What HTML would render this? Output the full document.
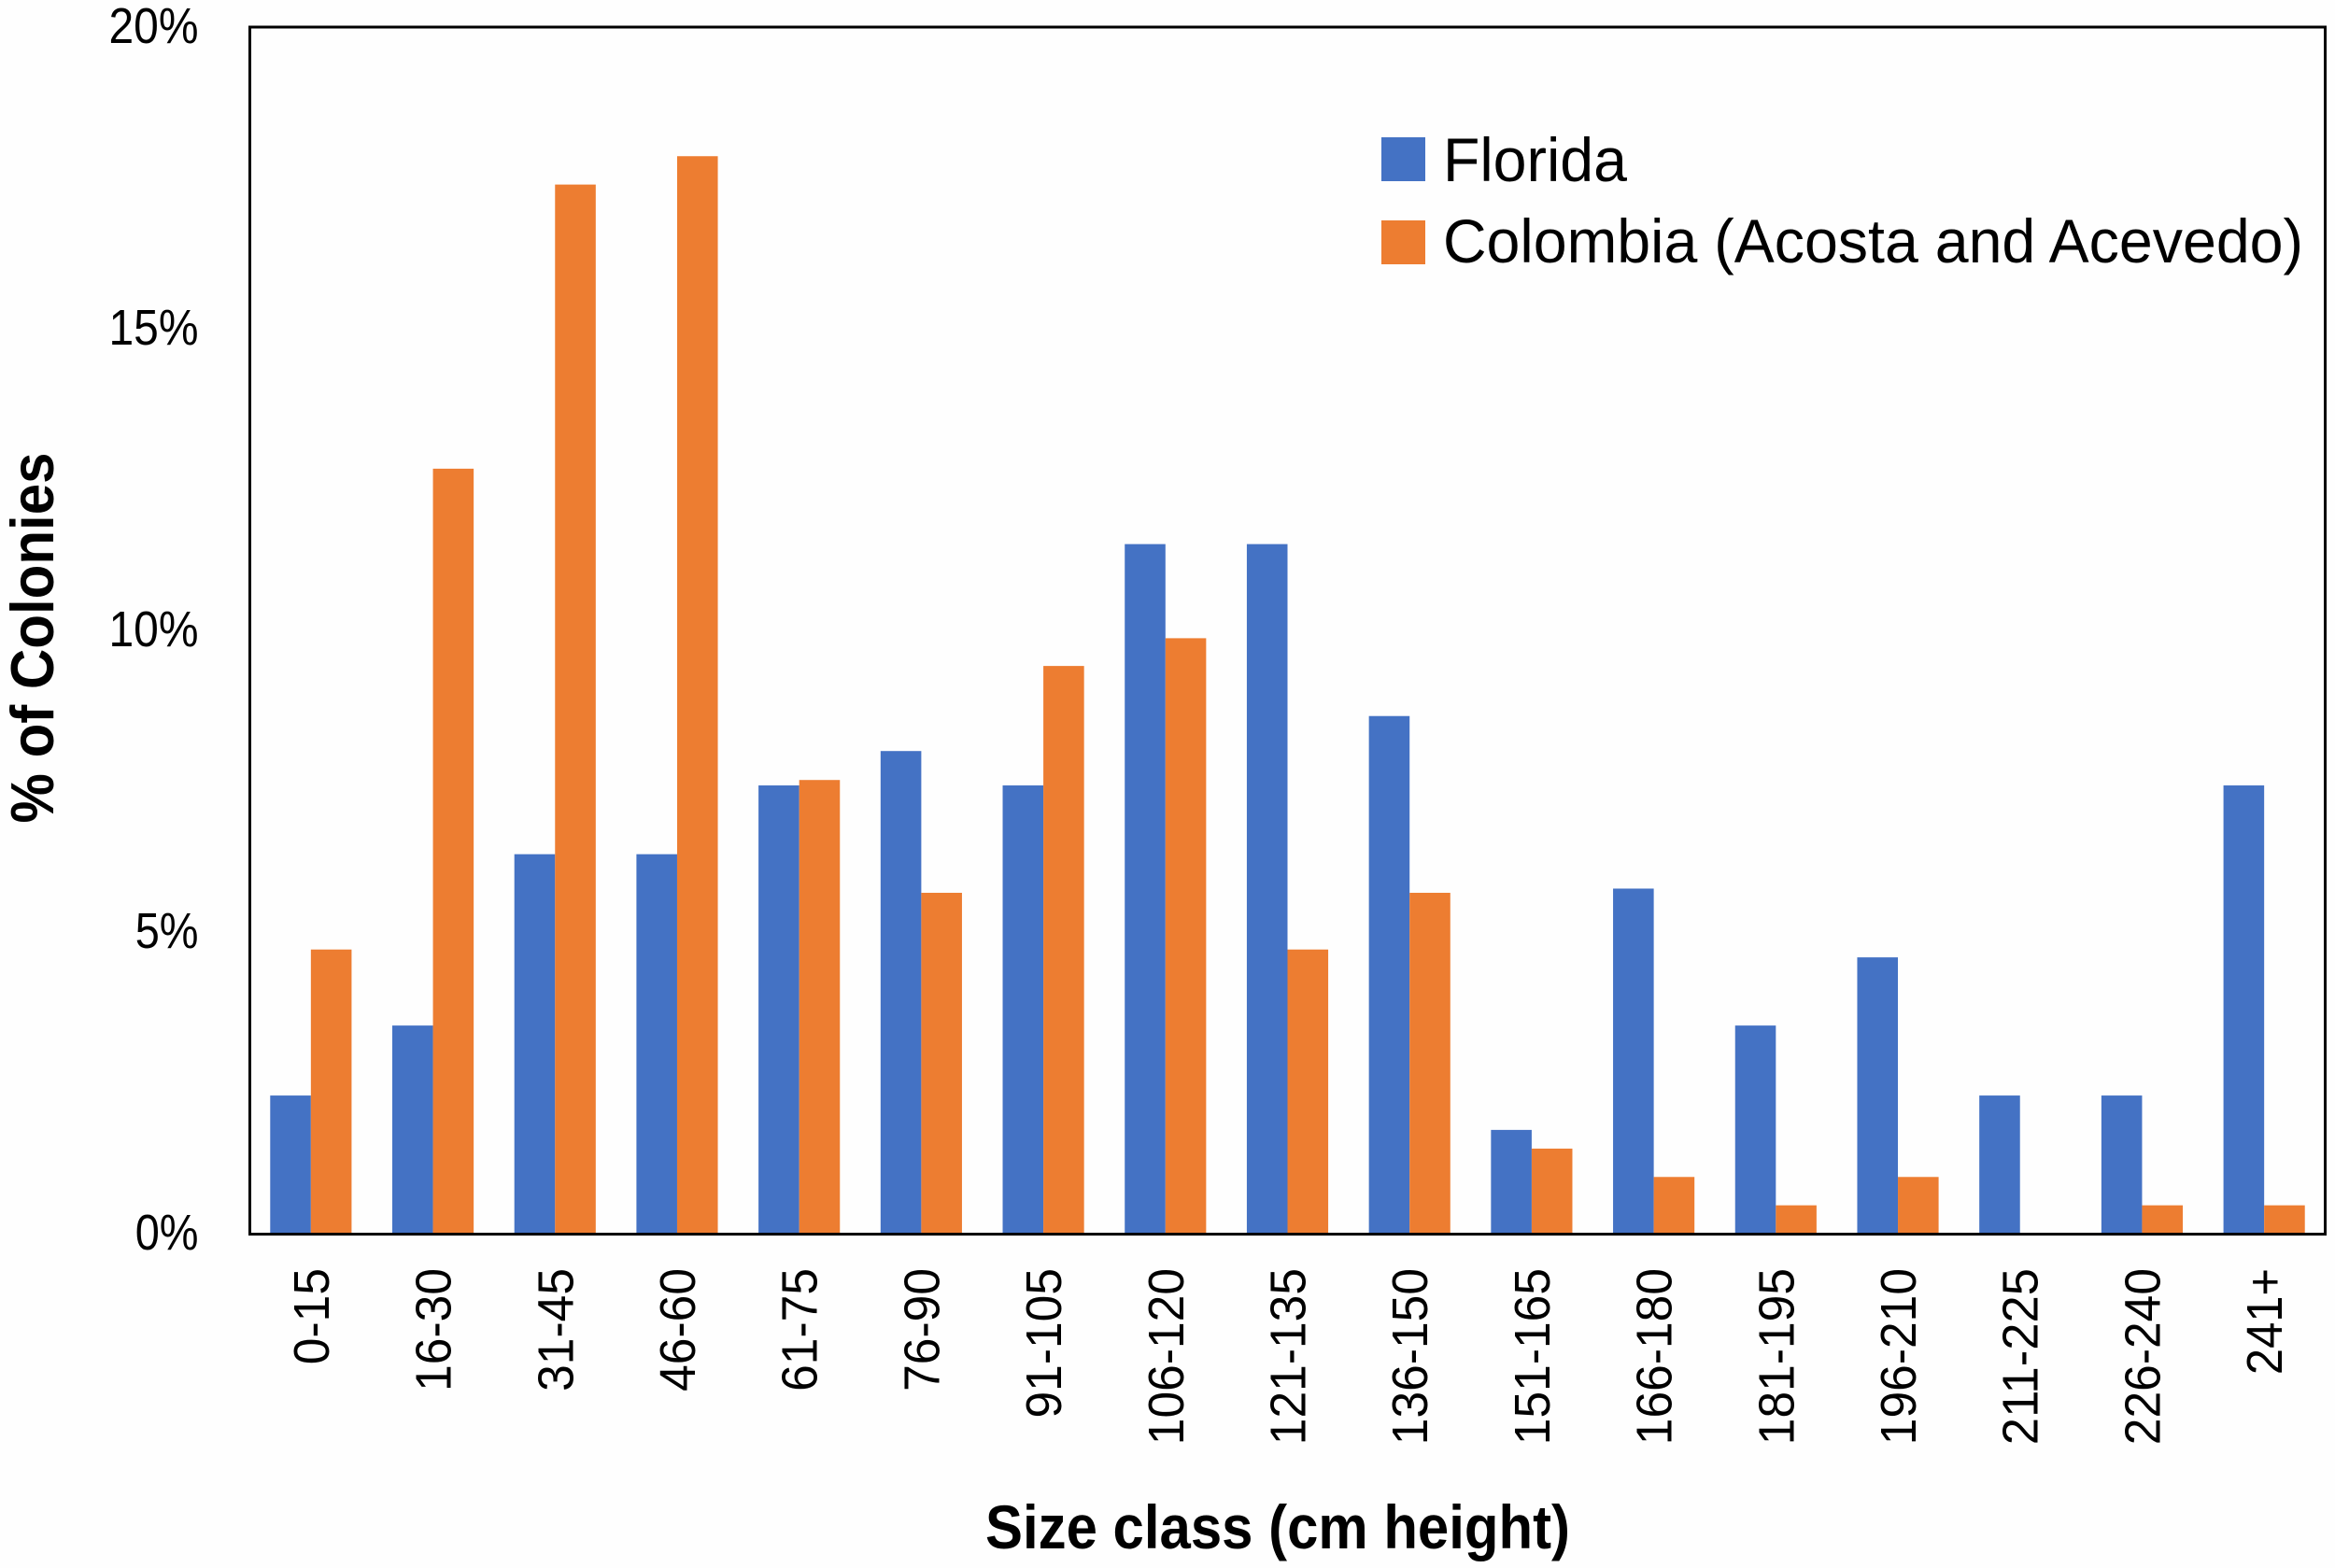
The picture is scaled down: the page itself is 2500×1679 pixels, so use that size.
<!DOCTYPE html>
<html lang="en">
<head>
<meta charset="utf-8">
<title>Colony size class distribution</title>
<style>
  html, body { margin: 0; padding: 0; background: #fff; }
  svg { display: block; }
  text { font-family: "Liberation Sans", sans-serif; fill: #000; }
</style>
</head>
<body>
<svg id="chart" xmlns="http://www.w3.org/2000/svg" width="2500" height="1679" viewBox="0 0 2500 1679">
  <rect x="0" y="0" width="2500" height="1679" fill="#fefefe"/>
  <g id="bars"></g>
  <rect x="267.5" y="29" width="2222" height="1292.5" fill="none" stroke="#000" stroke-width="3"/>
  <g id="y-ticks"></g>
  <g id="x-ticks"></g>
  <text transform="translate(57 683) rotate(-90)" text-anchor="middle" font-size="65" font-weight="700" textLength="397" lengthAdjust="spacingAndGlyphs">% of Colonies</text>
  <text x="1368" y="1658" text-anchor="middle" font-size="66" font-weight="700" textLength="626" lengthAdjust="spacingAndGlyphs">Size class (cm height)</text>
  <g>
    <rect x="1479" y="147" width="47" height="47" fill="#4472C4"/>
    <text x="1545" y="194" font-size="66" textLength="197" lengthAdjust="spacingAndGlyphs">Florida</text>
    <rect x="1479" y="236" width="47" height="47" fill="#ED7D31"/>
    <text x="1545" y="281" font-size="66" textLength="921" lengthAdjust="spacingAndGlyphs">Colombia (Acosta and Acevedo)</text>
  </g>
</svg>
<script>
const categories = ["0-15","16-30","31-45","46-60","61-75","76-90","91-105","106-120","121-135","136-150","151-165","166-180","181-195","196-210","211-225","226-240","241+"];
const florida = [2.29,3.45,6.29,6.29,7.43,8.0,7.43,11.43,11.43,8.58,1.72,5.72,3.45,4.58,2.29,2.29,7.43];
const colombia = [4.71,12.68,17.39,17.86,7.52,5.65,9.41,9.87,4.71,5.65,1.41,0.94,0.47,0.94,0,0.47,0.47];
const yTickValues = [0,5,10,15,20];
const yTickLabels = ["0%","5%","10%","15%","20%"];

const SVG_NS = "http://www.w3.org/2000/svg";
const PLOT = { left: 267.5, right: 2489.5, top: 29, bottom: 1321, yMax: 20 };

function yScale(v) {
  return PLOT.bottom - (v / PLOT.yMax) * (PLOT.bottom - PLOT.top);
}
function bandWidth() {
  return (PLOT.right - PLOT.left) / categories.length;
}
function xCenter(i) {
  return PLOT.left + bandWidth() * (i + 0.5);
}
function labelWidth(str, size) {
  let w = 0;
  for (const ch of str) {
    if (ch === "-") w += 0.306;
    else if (ch === "+") w += 0.498;
    else if (ch === "%") w += 0.715;
    else w += 0.507;
  }
  return w * size;
}

const barsGroup = document.getElementById("bars");
function drawSeries(values, color, offsetSign, seriesName) {
  const barW = bandWidth() / 3;
  values.forEach(function (v, i) {
    const rect = document.createElementNS(SVG_NS, "rect");
    const x = offsetSign < 0 ? xCenter(i) - barW : xCenter(i);
    rect.setAttribute("x", x.toFixed(2));
    rect.setAttribute("y", yScale(v).toFixed(2));
    rect.setAttribute("width", barW.toFixed(2));
    rect.setAttribute("height", (yScale(0) - yScale(v)).toFixed(2));
    rect.setAttribute("fill", color);
    
    
    barsGroup.appendChild(rect);
  });
}
drawSeries(florida, "#4472C4", -1, "florida");
drawSeries(colombia, "#ED7D31", 1, "colombia");

const yGroup = document.getElementById("y-ticks");
yTickValues.forEach(function (v, i) {
  const t = document.createElementNS(SVG_NS, "text");
  t.setAttribute("x", "212.5");
  t.setAttribute("y", (yScale(v) + 17).toFixed(2));
  t.setAttribute("text-anchor", "end");
  t.setAttribute("font-size", "54");
  t.setAttribute("textLength", labelWidth(yTickLabels[i], 55.5).toFixed(1));
  t.setAttribute("lengthAdjust", "spacingAndGlyphs");
  t.textContent = yTickLabels[i];
  
  
  yGroup.appendChild(t);
});

const xGroup = document.getElementById("x-ticks");
categories.forEach(function (c, i) {
  const t = document.createElementNS(SVG_NS, "text");
  const bx = xCenter(i) + 19;
  t.setAttribute("transform", "translate(" + bx.toFixed(2) + " 1358) rotate(-90)");
  t.setAttribute("text-anchor", "end");
  t.setAttribute("font-size", "54");
  t.setAttribute("textLength", labelWidth(c, 56.5).toFixed(1));
  t.setAttribute("lengthAdjust", "spacingAndGlyphs");
  t.textContent = c;
  
  
  xGroup.appendChild(t);
});
</script>
</body>
</html>
